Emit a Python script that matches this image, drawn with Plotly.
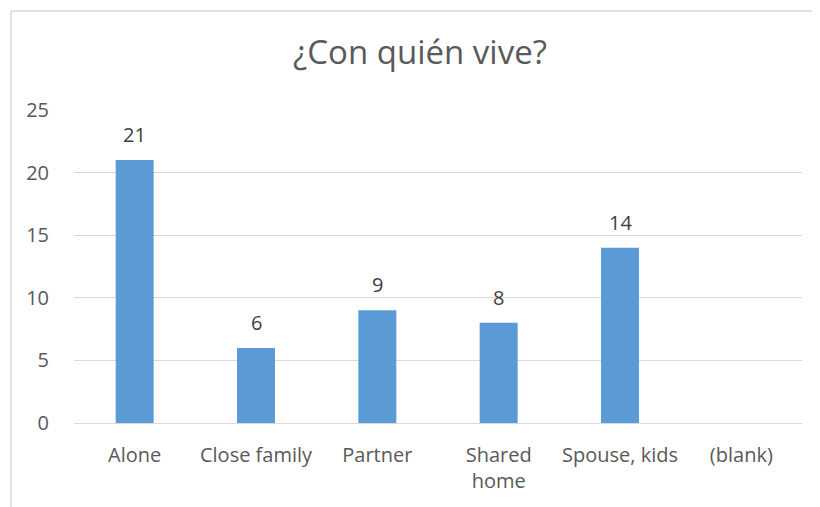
import plotly.graph_objects as go

categories = ["Alone", "Close family", "Partner", "Shared<br>home", "Spouse, kids", "(blank)"]
values = [21, 6, 9, 8, 14, None]
labels = ["21", "6", "9", "8", "14", ""]
title = "¿Con quién vive?"

# page has an 8px body margin, so the figure is placed 8px in from the window edge
W, H = 820, 499
L, R, T, B = 66, 26, 102, 84
FONT = "Open Sans"

fig = go.Figure(go.Bar(
    x=categories, y=values,
    marker=dict(color="#5B9BD5", line=dict(width=0)),
    hoverinfo="x+y",
))

for c, v, t in zip(categories, values, labels):
    if v is None or not t:
        continue
    fig.add_annotation(x=c, y=v, text=t, showarrow=False, yanchor="bottom",
                       yshift=10, font=dict(size=20, color="#404040", family=FONT))

fig.update_layout(
    width=W, height=H,
    margin=dict(l=L, r=R, t=T, b=B),
    paper_bgcolor="white", plot_bgcolor="white",
    bargap=0.687,
    showlegend=False,
    font=dict(family=FONT, color="#595959", size=20),
    title=dict(text=title, x=412 / W, xanchor="center", xref="container",
               y=1 - 44 / H, yanchor="middle", yref="container",
               font=dict(size=33, color="#595959", family=FONT)),
    xaxis=dict(showgrid=False, showline=False, ticks="", ticklabelstandoff=18,
               tickfont=dict(size=20, color="#595959")),
    yaxis=dict(range=[0, 25], dtick=5, showgrid=True, gridcolor="#D9D9D9", gridwidth=1,
               zeroline=True, zerolinecolor="#D9D9D9", zerolinewidth=1,
               ticks="", ticklabelstandoff=24, tickfont=dict(size=20, color="#595959")),
)

# outer chart border (light gray): only its top and left edges are in view
pw = W - L - R
ph = H - T - B
bx = (3 - L) / pw
by = 1 + (T - 3) / ph
border = dict(color="#D9D9D9", width=1.5)
fig.add_shape(type="line", xref="paper", yref="paper", x0=bx, x1=(W + 20 - L) / pw,
              y0=by, y1=by, line=border, layer="below")
fig.add_shape(type="line", xref="paper", yref="paper", x0=bx, x1=bx,
              y0=-(B + 20) / ph, y1=by, line=border, layer="below")

fig.write_html("out.html")
